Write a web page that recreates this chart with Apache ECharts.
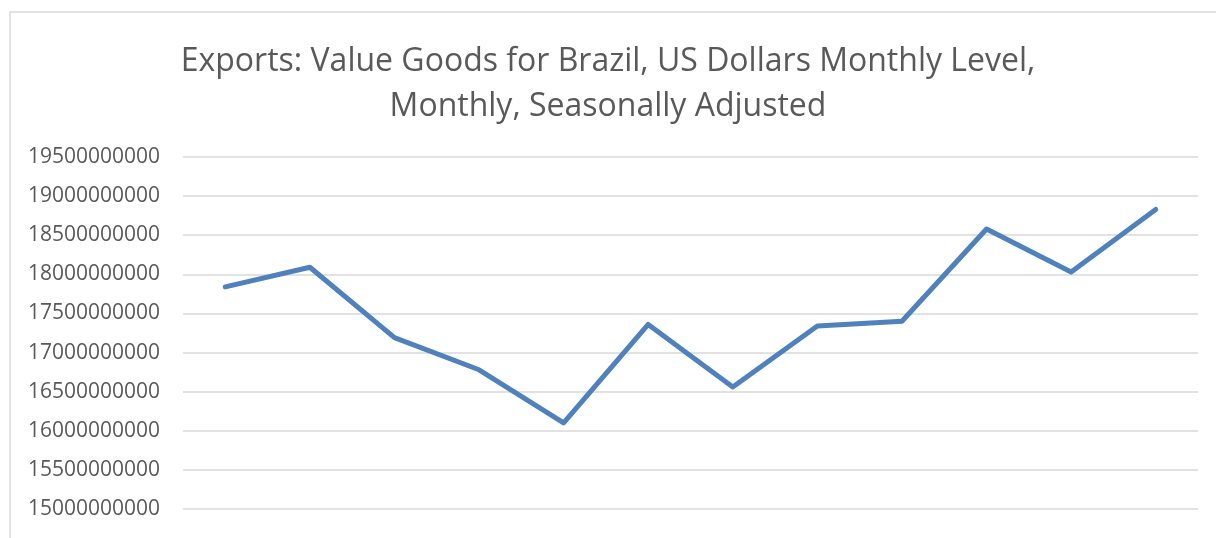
<!DOCTYPE html>
<html>
<head>
<meta charset="utf-8">
<script src="https://cdn.jsdelivr.net/npm/echarts@6/dist/echarts.min.js"></script>
<style>
  html, body { margin: 0; padding: 0; background: #fff; }
  #chart { width: 1216px; height: 538px; }
</style>
</head>
<body>
<div id="chart"></div>
<script>
  // monthly points, no x labels shown in the picture
  const months = ['1', '2', '3', '4', '5', '6', '7', '8', '9', '10', '11', '12']
  const exportsValue = [
    17840000000, 18090000000, 17190000000, 16780000000, 16100000000, 17360000000,
    16560000000, 17340000000, 17400000000, 18580000000, 18030000000, 18830000000
  ]
  const yMin = 15000000000
  const yMax = 19500000000
  const yStep = 500000000

  const myChart = echarts.init(document.getElementById('chart'))

  let option = {
    backgroundColor: '#fff',
    title: {
      text: 'Exports: Value Goods for Brazil, US Dollars Monthly Level,\nMonthly, Seasonally Adjusted',
      left: 'center',
      top: 34,
      textStyle: {
        fontFamily: 'Open Sans',
        fontWeight: 'normal',
        fontSize: 32,
        lineHeight: 45,
        color: '#595959'
      }
    },
    graphic: [{
      // outer chart border (cropped on right/bottom)
      type: 'rect',
      shape: { x: 10, y: 12, width: 1300, height: 600 },
      style: { fill: 'none', stroke: '#d9d9d9', lineWidth: 1.5 },
      silent: true
    }],
    grid: {
      left: 183,
      right: 18,
      top: 157,
      bottom: 29
    },
    xAxis: {
      type: 'category',
      boundaryGap: true,
      data: months,
      show: false
    },
    yAxis: {
      type: 'value',
      min: yMin,
      max: yMax,
      interval: yStep,
      axisLine: { show: false },
      axisTick: { show: false },
      axisLabel: {
        margin: 23,
        fontFamily: 'Open Sans',
        fontSize: 21,
        color: '#595959',
        formatter: (v) => String(v)
      },
      splitLine: {
        lineStyle: { color: '#d9d9d9', width: 1.5 }
      }
    },
    series: [{
      type: 'line',
      data: exportsValue,
      symbol: 'none',
      lineStyle: {
        color: '#4f81bd',
        width: 5,
        cap: 'round',
        join: 'round'
      }
    }]
  }

  myChart.setOption(option)
</script>
</body>
</html>
